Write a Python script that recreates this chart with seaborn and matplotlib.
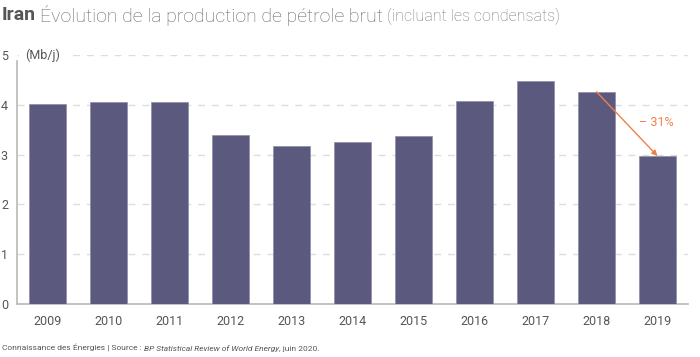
import matplotlib
matplotlib.use("Agg")
import matplotlib.pyplot as plt
import seaborn as sns
import pandas as pd

years = ["2009", "2010", "2011", "2012", "2013", "2014", "2015", "2016", "2017", "2018", "2019"]
production = [4.01, 4.06, 4.05, 3.40, 3.18, 3.26, 3.38, 4.08, 4.47, 4.26, 2.97]
yticks = [0, 1, 2, 3, 4, 5]

sns.set_theme(style="white")
plt.rcParams['font.family'] = ['Roboto', 'DejaVu Sans']

df = pd.DataFrame({"annee": years, "prod": production})

fig = plt.figure(figsize=(7, 3.57), dpi=100)
ax = fig.add_axes([0.0243, 0.1485, 0.9586, 0.6975])

sns.barplot(data=df, x="annee", y="prod", color="#5b597d", width=0.6,
            saturation=1, edgecolor="#8e8ca8", linewidth=0.5, ax=ax, zorder=3)

ax.set_xlim(-0.5, 10.5)
ax.set_ylim(0, 5)
ax.set_yticks(yticks)
ax.set_yticklabels([str(t) for t in yticks])
ax.set_xlabel("")
ax.set_ylabel("")
for y in yticks[1:]:
    ax.axhline(y, color="#dddddd", lw=1, ls=(0, (5, 5)), zorder=1)
ax.tick_params(axis="both", length=0, labelsize=9, colors="#555555")
ax.tick_params(axis="y", pad=6.5)
ax.tick_params(axis="x", pad=8)
for s in ["top", "right"]:
    ax.spines[s].set_visible(False)
ax.spines["left"].set_color("#bbbbbb")
ax.spines["left"].set_bounds(0, 4.88)
ax.spines["bottom"].set_color("#bbbbbb")

ax.text(-0.37, 5, "(Mb/j)", fontsize=9, color="#555555", va="center", ha="left",
        backgroundcolor="white", zorder=4)

# variation 2018 -> 2019
ax.annotate("", xy=(10, production[10]), xytext=(9, production[9]),
            arrowprops=dict(arrowstyle="-|>", color="#f08048", lw=1, mutation_scale=8,
                            shrinkA=0, shrinkB=0), zorder=5)
ax.text(9.7, 3.65, "– 31%", fontsize=9, color="#f08048", ha="left", va="center")

# titre
fig.canvas.draw()
r = fig.canvas.get_renderer()
t1 = fig.text(0.003, 0.957, "Iran", fontsize=14, fontweight="bold", color="#555555", va="center")
bb = t1.get_window_extent(r)
t2 = fig.text(bb.x1 / 700 + 0.006, 0.957, "Évolution de la production de pétrole brut",
              fontsize=14, fontweight="light", color="#666666", va="center")
bb = t2.get_window_extent(r)
fig.text(bb.x1 / 700 + 0.006, 0.954, "(incluant les condensats)", fontsize=11.5,
         fontweight="light", color="#777777", va="center")

# source
f1 = fig.text(0.003, 0.018, "Connaissance des Énergies | Source : ", fontsize=6, color="#555555")
bb = f1.get_window_extent(r)
f2 = fig.text(bb.x1 / 700, 0.018, "BP Statistical Review of World Energy", fontsize=6,
              style="italic", color="#555555")
bb = f2.get_window_extent(r)
fig.text(bb.x1 / 700, 0.018, ", juin 2020.", fontsize=6, color="#555555")

fig.savefig("out.png", dpi=100)
